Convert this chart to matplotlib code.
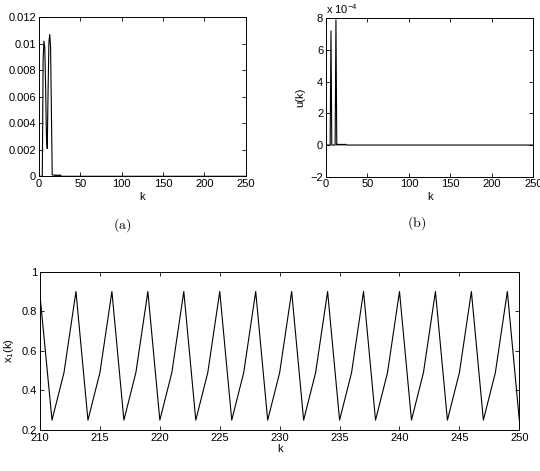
import numpy as np
import matplotlib
matplotlib.use('Agg')
import matplotlib.pyplot as plt

plt.rcParams['font.family'] = ['Liberation Sans', 'DejaVu Sans']
plt.rcParams['font.size'] = 8
plt.rcParams['mathtext.fontset'] = 'custom'
plt.rcParams['mathtext.rm'] = 'Liberation Sans'
plt.rcParams['mathtext.it'] = 'Liberation Sans:italic'

# (a) e(k), transient near the start, then zero up to k = 250
k_e = list(range(0, 31)) + [250]
e_vals = [0, 0, 0, 0, 0, 0.0088, 0.0102, 0.0097, 0.0068, 0.0030,
          0.0021, 0.0065, 0.0101, 0.0107, 0.0098, 0.0050, 0.0001, 0.0001,
          0.0001, 0.00005, 0.0001, 0.00005, 0.0001, 0.00005, 0.0001,
          0.00005, 0.0001, 0, 0, 0, 0, 0]

# (b) u(k) in units of 1e-4
k_u = list(range(0, 31)) + [250]
u_vals = [0, 0, 0, 0, 0, 0, 7.2, 0, 0, 0,
          0, 0, 7.9, 0, 0.05, 0, 0.05, 0, 0.05, 0,
          0.05, 0, 0.05, 0, 0.05, 0, 0, 0, 0, 0, 0, 0]

# (c) x1(k) for k = 210..250
k_x = list(range(210, 251))
x1_vals = [0.88, 0.25, 0.49, 0.9, 0.25, 0.49, 0.9, 0.25, 0.49, 0.9,
           0.25, 0.49, 0.9, 0.25, 0.49, 0.9, 0.25, 0.49, 0.9, 0.25,
           0.49, 0.9, 0.25, 0.49, 0.9, 0.25, 0.49, 0.9, 0.25, 0.49,
           0.9, 0.25, 0.49, 0.9, 0.25, 0.49, 0.9, 0.25, 0.49, 0.9, 0.25]


def style(ax):
    ax.tick_params(direction='in', length=3, width=0.6, top=True, right=True, pad=2)
    for s in ax.spines.values():
        s.set_linewidth(0.7)


fig = plt.figure(figsize=(5.4, 4.71), dpi=100)

ax1 = fig.add_axes([0.0722, 0.6257, 0.3828, 0.3376])
ax1.plot(k_e, e_vals, color='k', lw=0.8)
ax1.set_xlim(0, 250)
ax1.set_ylim(0, 0.012)
ax1.set_xticks([0, 50, 100, 150, 200, 250])
ax1.set_yticks([0, 0.002, 0.004, 0.006, 0.008, 0.01, 0.012])
ax1.set_yticklabels(['0', '0.002', '0.004', '0.006', '0.008', '0.01', '0.012'])
ax1.set_xlabel('k', labelpad=2)
ax1.set_ylabel('e(k)')
ax1.yaxis.set_label_coords(-0.205, 0.6)
style(ax1)
fig.text(121.7 / 540, 1 - 225 / 471, r'$\mathrm{(a)}$', ha='center', va='center',
         fontsize=10, math_fontfamily='cm')

ax2 = fig.add_axes([0.6037, 0.6248, 0.3839, 0.3363])
ax2.plot(k_u, u_vals, color='k', lw=0.8)
ax2.set_xlim(0, 250)
ax2.set_ylim(-2, 8)
ax2.set_xticks([0, 50, 100, 150, 200, 250])
ax2.set_yticks([-2, 0, 2, 4, 6, 8])
ax2.set_xlabel('k', labelpad=2)
ax2.set_ylabel('u(k)')
ax2.text(0.0, 1.015, r'x 10$^{-4}$', transform=ax2.transAxes, ha='left', va='bottom')
style(ax2)
fig.text(416.7 / 540, 1 - 223 / 471, r'$\mathrm{(b)}$', ha='center', va='center',
         fontsize=10, math_fontfamily='cm')

ax3 = fig.add_axes([0.0741, 0.0870, 0.8876, 0.3361])
ax3.plot(k_x, x1_vals, color='k', lw=0.8)
ax3.set_xlim(210, 250)
ax3.set_ylim(0.2, 1)
ax3.set_xticks(list(range(210, 251, 5)))
ax3.set_yticks([0.2, 0.4, 0.6, 0.8, 1])
ax3.set_yticklabels(['0.2', '0.4', '0.6', '0.8', '1'])
ax3.set_xlabel('k', labelpad=1)
ax3.set_ylabel(r'x$_1$(k)')
style(ax3)

fig.savefig('out.png', dpi=100)
